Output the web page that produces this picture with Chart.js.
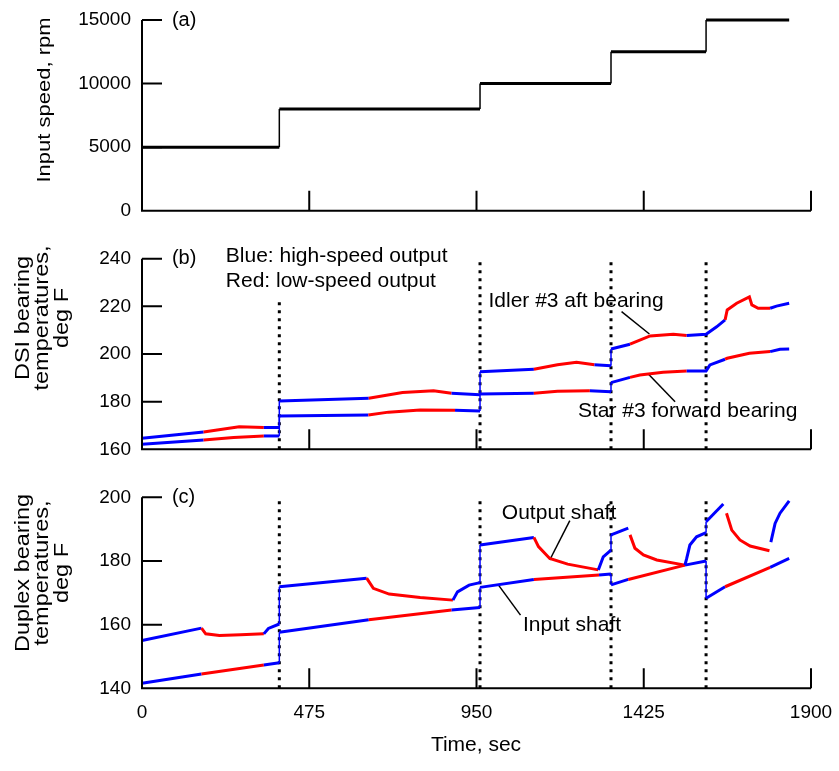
<!DOCTYPE html>
<html>
<head>
<meta charset="utf-8">
<script src="https://cdn.jsdelivr.net/npm/chart.js@4.4.0/dist/chart.umd.min.js"></script>
<style>
  html, body { margin: 0; padding: 0; background: #fff; }
  #wrap { position: relative; width: 839px; height: 771px; }
  #wrap canvas { position: absolute; left: 0; top: 0; }
</style>
</head>
<body>
<div id="wrap">
  <canvas id="chartA" width="839" height="771"></canvas>
  <canvas id="chartB" width="839" height="771"></canvas>
  <canvas id="chartC" width="839" height="771"></canvas>
</div>
<script>
// shared time axis
const xTicks = [0, 475, 950, 1425, 1900];
const stepTimes = [390, 960, 1332, 1602];

// (a) input speed, rpm
const speedT = [0, 390, 390, 960, 960, 1332, 1332, 1602, 1602, 1838];
const speedV = [5000, 5000, 8000, 8000, 10000, 10000, 12500, 12500, 15000, 15000];
const speedTicks = [0, 5000, 10000, 15000];

// (b) DSI bearing temperatures, deg F   ('b' = high-speed output, 'r' = low-speed output)
const idlerT = [0, 175, 276, 346, 390, 390, 644, 740, 828, 879, 960, 960, 1113, 1180, 1234, 1285, 1332, 1332,
  1386, 1443, 1509, 1547, 1602, 1632, 1656, 1662, 1689, 1725, 1732, 1750, 1784, 1802, 1838];
const idlerV = [164.6, 167.3, 169.5, 169.1, 169.2, 180.3, 181.4, 183.8, 184.6, 183.5, 182.9, 192.6, 193.6, 195.5, 196.5, 195.5, 195.1, 202.1,
  204.1, 207.6, 208.3, 207.8, 208.3, 211.4, 214.3, 218.5, 221.3, 224.0, 220.6, 219.2, 219.2, 220.1, 221.3];
const idlerC = ['b','r','r','b','b','b','r','r','r','b','b','b','r','r','r','b','b','b',
  'r','r','r','b','b','b','r','r','r','r','r','r','b','b','b'];

const starT = [0, 175, 260, 346, 390, 390, 643, 700, 790, 889, 960, 960, 1113, 1180, 1272, 1332, 1332,
  1386, 1414, 1480, 1547, 1602, 1613, 1656, 1662, 1725, 1784, 1812, 1838];
const starV = [162.1, 163.9, 165.0, 165.6, 165.6, 174.0, 174.4, 175.6, 176.5, 176.4, 176.1, 183.2, 183.5, 184.4, 184.6, 184.2, 188.0,
  190.2, 191.2, 192.3, 192.9, 192.9, 195.4, 197.8, 198.2, 200.3, 201.0, 202.0, 202.1];
const starC = ['b','r','r','b','b','b','r','r','r','b','b','b','r','r','b','b','b',
  'r','r','r','b','b','b','r','r','r','b','b','b'];
const dsiTicks = [160, 180, 200, 220, 240];

// (c) Duplex bearing temperatures, deg F
const outT = [0, 169, 181, 220, 280, 346, 359, 390, 390, 638, 657, 702, 790, 883, 896, 929, 960, 960,
  1113, 1126, 1158, 1209, 1296, 1310, 1332, 1332, 1381, 1383, 1386, 1400, 1424, 1462, 1542, 1547, 1556, 1575, 1602, 1602, 1651,
  1655, 1660, 1675, 1698, 1727, 1782, 1784, 1786, 1798, 1812, 1838];
const outV = [155.0, 158.9, 157.1, 156.6, 156.8, 157.1, 158.8, 160.2, 171.9, 174.6, 171.4, 169.6, 168.5, 167.7, 170.3, 172.4, 173.2, 185.0,
  187.4, 184.5, 180.8, 179.0, 177.2, 181.3, 183.4, 188.2, 190.3, null, 188.2, 184.0, 181.9, 180.3, 178.7, 180.8, 185.0, 187.6, 188.9, 192.3, 197.9,
  null, 195.0, 189.7, 186.6, 184.7, 183.2, null, 185.9, 191.8, 195.0, 198.9];
const outC = ['b','r','r','r','r','b','b','b','b','r','r','r','r','b','b','b','b','b',
  'r','r','r','r','b','b','b','b','b','b','r','r','r','r','b','b','b','b','b','b','b',
  'b','r','r','r','r','r','b','b','b','b','b'];

const inT = [0, 169, 346, 390, 390, 644, 879, 960, 960, 1113, 1298, 1332, 1332, 1381, 1542, 1602, 1602, 1656, 1784, 1838];
const inV = [141.6, 144.5, 147.3, 148.0, 157.6, 161.5, 164.6, 165.4, 171.7, 174.2, 175.6, 175.9, 172.5, 174.2, 178.7, 180.0, 168.3, 171.9, 178.0, 180.8];
const inC = ['b','r','b','b','b','r','b','b','b','r','b','b','b','r','b','b','b','r','b','b'];
const duplexTicks = [140, 160, 180, 200];

const BLUE = '#0000ff';
const RED = '#ff0000';
const FONT = "'Liberation Sans', Arial, Helvetica, sans-serif";

Chart.defaults.font.family = FONT;
Chart.defaults.color = '#000';

function pts(t, v) {
  return t.map((x, i) => ({ x: x, y: v[i] }));
}

function trace(t, v, c, color) {
  return {
    data: pts(t, v),
    borderColor: color || BLUE,
    borderWidth: 3,
    pointRadius: 0,
    tension: 0,
    spanGaps: false,
    clip: false,
    segment: {
      borderColor: ctx => c ? (c[ctx.p0DataIndex] === 'r' ? RED : BLUE) : color,
      borderWidth: ctx => Math.abs(ctx.p0.x - ctx.p1.x) < 0.5 ? 1.5 : 3
    }
  };
}

function line(t, v, width, dash) {
  return {
    data: pts(t, v),
    borderColor: '#000',
    borderWidth: width,
    borderDash: dash || [],
    borderCapStyle: 'butt',
    pointRadius: 0,
    clip: false
  };
}

// dotted lines at the speed steps
function steps(top, bottom, firstTop) {
  return stepTimes.map((t, i) => line([t, t], [bottom, i === 0 && firstTop ? firstTop : top], 3, [3, 5]));
}

// axes with inward ticks, labels and titles
const framePlugin = {
  id: 'frame',
  afterDatasetsDraw(chart, args, o) {
    const { ctx, chartArea: a, scales: { x, y } } = chart;
    ctx.save();
    ctx.strokeStyle = '#000';
    ctx.lineWidth = 2;
    ctx.beginPath();
    ctx.moveTo(a.left, a.top);
    ctx.lineTo(a.left, a.bottom);
    ctx.lineTo(a.right, a.bottom);
    o.yTicks.forEach(v => {
      const py = y.getPixelForValue(v);
      ctx.moveTo(a.left, py);
      ctx.lineTo(a.left + 20, py);
    });
    xTicks.forEach(v => {
      const px = x.getPixelForValue(v);
      ctx.moveTo(px, a.bottom);
      ctx.lineTo(px, a.bottom - 20);
    });
    ctx.stroke();

    ctx.fillStyle = '#000';
    ctx.textBaseline = 'middle';

    // tick labels
    ctx.font = '19px ' + FONT;
    ctx.textAlign = 'right';
    o.yTicks.forEach(v => ctx.fillText(String(v), a.left - 11, y.getPixelForValue(v)));
    if (o.xTitle) {
      ctx.textAlign = 'center';
      xTicks.forEach(v => ctx.fillText(String(v), x.getPixelForValue(v), a.bottom + 24));
    }

    ctx.textAlign = 'left';
    o.notes.forEach(n => {
      ctx.font = (n.size || 21) + 'px ' + FONT;
      ctx.fillText(n.text, x.getPixelForValue(n.x), y.getPixelForValue(n.y));
    });

    // rotated y titles, a little narrow like the original lettering
    ctx.font = o.title.size + 'px ' + FONT;
    ctx.textAlign = 'center';
    o.title.lines.forEach((s, i) => {
      ctx.save();
      ctx.translate(o.title.x + i * 19.5, o.title.y);
      ctx.rotate(-Math.PI / 2);
      ctx.scale(1, 0.86);
      ctx.fillText(s, 0, 0);
      ctx.restore();
    });
    if (o.xTitle) {
      ctx.font = '21px ' + FONT;
      ctx.fillText(o.xTitle.text, o.xTitle.x, o.xTitle.y);
    }
    ctx.restore();
  }
};

function makePanel(id, cfg) {
  new Chart(document.getElementById(id), {
    type: 'line',
    data: { datasets: cfg.datasets },
    options: {
      responsive: false,
      animation: false,
      devicePixelRatio: 1,
      layout: { padding: { left: 0, right: 28, top: cfg.top, bottom: 771 - cfg.bottom } },
      scales: {
        x: {
          type: 'linear',
          min: 0,
          max: 1900,
          grid: { display: false, drawTicks: false, tickLength: 0 },
          border: { display: false },
          ticks: { display: false, stepSize: 475 },
          afterFit: s => { s.height = 0; }
        },
        y: {
          min: cfg.yMin,
          max: cfg.yMax,
          grid: { display: false, drawTicks: false, tickLength: 0 },
          border: { display: false },
          ticks: { display: false, stepSize: cfg.yStep },
          afterFit: s => { s.width = 142; }
        }
      },
      plugins: {
        legend: { display: false },
        tooltip: { enabled: false },
        frame: { yTicks: cfg.yTicks, notes: cfg.notes, title: cfg.title, xTitle: cfg.xTitle }
      }
    },
    plugins: [framePlugin]
  });
}

// (a)
makePanel('chartA', {
  top: 20, bottom: 210.7,
  yMin: 0, yMax: 15000, yStep: 5000, yTicks: speedTicks,
  datasets: [trace(speedT, speedV, null, '#000')],
  notes: [{ text: '(a)', x: 85, y: 15000, size: 20 }],
  title: { lines: ['Input speed, rpm'], x: 45, y: 100, size: 22 }
});

// (b)
makePanel('chartB', {
  top: 258.7, bottom: 449.3,
  yMin: 160, yMax: 240, yStep: 20, yTicks: dsiTicks,
  datasets: [
    trace(idlerT, idlerV, idlerC),
    trace(starT, starV, starC),
    line([1362, 1441], [217.8, 208.4], 1.5),
    line([1438, 1514], [191.6, 180.0], 1.5)
  ].concat(steps(240, 160, 223.5)),
  notes: [
    { text: '(b)', x: 85, y: 240, size: 20 },
    { text: 'Blue: high-speed output', x: 238, y: 241.1 },
    { text: 'Red: low-speed output', x: 238, y: 230.6 },
    { text: 'Idler #3 aft bearing', x: 984, y: 222.2 },
    { text: 'Star #3 forward bearing', x: 1238, y: 175.8 }
  ],
  title: { lines: ['DSI bearing', 'temperatures,', 'deg F'], x: 23, y: 318, size: 23.5 }
});

// (c)
makePanel('chartC', {
  top: 497.3, bottom: 688.3,
  yMin: 140, yMax: 200, yStep: 20, yTicks: duplexTicks,
  datasets: [
    trace(outT, outV, outC),
    trace(inT, inV, inC),
    line([1215, 1158], [192.7, 180.3], 1.5),
    line([1012, 1075], [172.5, 163.0], 1.5)
  ].concat(steps(200, 140)),
  notes: [
    { text: '(c)', x: 85, y: 200, size: 20 },
    { text: 'Output shaft', x: 1022, y: 195.0 },
    { text: 'Input shaft', x: 1082, y: 159.7 }
  ],
  title: { lines: ['Duplex bearing', 'temperatures,', 'deg F'], x: 23, y: 573, size: 23.5 },
  xTitle: { text: 'Time, sec', x: 476, y: 745 }
});
</script>
</body>
</html>
